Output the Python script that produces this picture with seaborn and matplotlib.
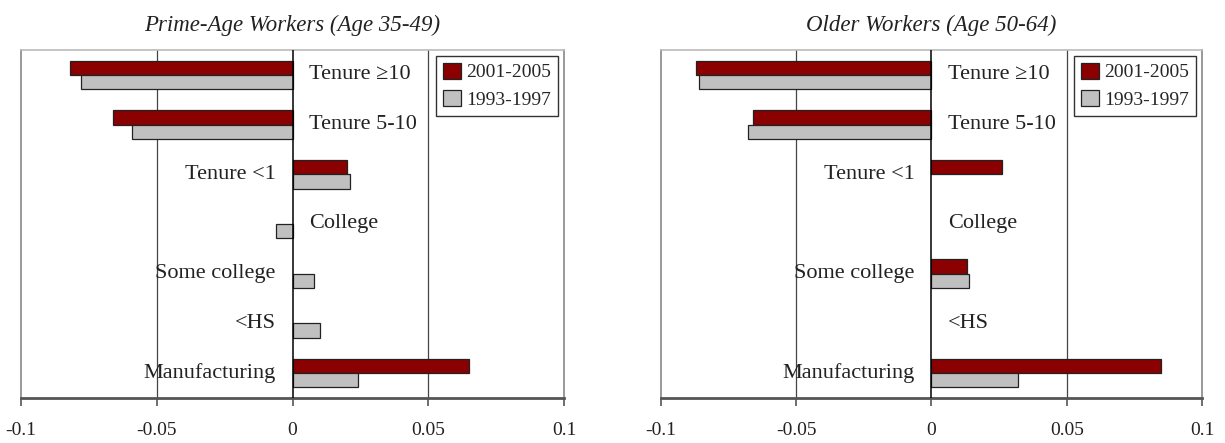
import numpy as np
import pandas as pd
import matplotlib
matplotlib.use("Agg")
import matplotlib.pyplot as plt
import seaborn as sns

# data
categories = ["Tenure \u226510", "Tenure 5-10", "Tenure <1", "College",
              "Some college", "<HS", "Manufacturing"]
periods = ["2001-2005", "1993-1997"]
nan = np.nan
prime_2001 = [-0.082, -0.066, 0.020, nan, nan, nan, 0.065]
prime_1993 = [-0.078, -0.059, 0.021, -0.006, 0.008, 0.010, 0.024]
older_2001 = [-0.087, -0.066, 0.026, nan, 0.013, nan, 0.085]
older_1993 = [-0.086, -0.068, nan, nan, 0.014, nan, 0.032]
titles = ["Prime-Age Workers (Age 35-49)", "Older Workers (Age 50-64)"]
xticks = [-0.1, -0.05, 0, 0.05, 0.1]
xtick_labels = ["-0.1", "-0.05", "0", "0.05", "0.1"]

sns.set_theme(style="white")
plt.rcParams["font.family"] = ["Liberation Serif", "DejaVu Serif"]

colors = {"2001-2005": "#8b0000", "1993-1997": "#c0c0c0"}


def make_frame(v_new, v_old):
    rows = []
    for cat, a, b in zip(categories, v_new, v_old):
        rows.append((cat, periods[0], a))
        rows.append((cat, periods[1], b))
    df = pd.DataFrame(rows, columns=["category", "period", "value"])
    return df.dropna()


def draw_panel(ax, v_new, v_old, title):
    df = make_frame(v_new, v_old)
    sns.barplot(data=df, y="category", x="value", hue="period",
                order=categories, hue_order=periods, palette=colors,
                saturation=1, orient="h", width=0.574,
                edgecolor="#222222", linewidth=0.9, ax=ax)
    ax.set_xlim(-0.1, 0.1)
    ax.set_ylim(len(categories) - 0.5, -0.5)
    ax.set_xticks(xticks)
    ax.set_xticklabels(xtick_labels, fontsize=14, color="#222222")
    ax.set_yticks([])
    ax.set_xlabel("")
    ax.set_ylabel("")
    ax.tick_params(axis="x", direction="out", length=6, width=1.2,
                   color="#555555", pad=11, bottom=True)

    # grid lines and zero line
    for xv in [-0.05, 0.05]:
        ax.axvline(xv, color="#444444", lw=0.9, zorder=0)
    ax.axvline(0, color="black", lw=1.1, zorder=3)

    for side, c, w in [("left", "#888888", 1.2), ("right", "#888888", 1.2),
                       ("top", "#bbbbbb", 1.2), ("bottom", "#555555", 2.0)]:
        ax.spines[side].set_visible(True)
        ax.spines[side].set_color(c)
        ax.spines[side].set_linewidth(w)

    # category labels sit beside the zero line
    for i, cat in enumerate(categories):
        vals = [v for v in (v_new[i], v_old[i]) if not np.isnan(v)]
        if len(vals) == 0 or max(vals) <= 0:
            ax.text(0.0062, i, cat, ha="left", va="center", fontsize=16,
                    color="#222222")
        else:
            ax.text(-0.0062, i, cat, ha="right", va="center", fontsize=16,
                    color="#222222")

    ax.set_title(title, style="italic", fontsize=16.5, pad=14, color="#222222")
    leg = ax.legend(loc="upper right", fontsize=14, frameon=True,
                    fancybox=False, handlelength=0.9, handleheight=0.9,
                    handletextpad=0.3, borderpad=0.35, labelspacing=0.45,
                    borderaxespad=0.3)
    leg.get_frame().set_edgecolor("black")
    leg.get_frame().set_linewidth(1.0)


fig = plt.figure(figsize=(12.25, 4.43), dpi=100)
ax1 = fig.add_axes([0.01714, 0.1016, 0.4433, 0.7856])
ax2 = fig.add_axes([0.5396, 0.1016, 0.4416, 0.7856])

draw_panel(ax1, prime_2001, prime_1993, titles[0])
draw_panel(ax2, older_2001, older_1993, titles[1])

fig.savefig("out.png", dpi=100)
